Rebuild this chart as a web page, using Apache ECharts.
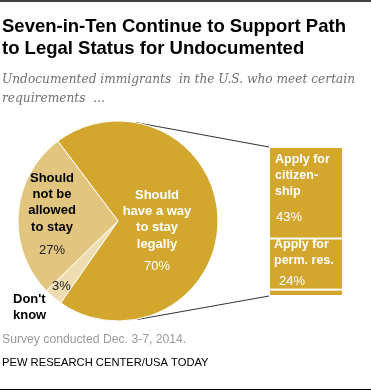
<!DOCTYPE html>
<html><head><meta charset="utf-8">
<script src="https://cdn.jsdelivr.net/npm/echarts@6/dist/echarts.min.js"></script>
<style>html,body{margin:0;padding:0;background:#fff}#c{width:371px;height:392px}</style>
</head><body><div id="c"></div>
<script>
// ---- data ----
const pieNames = ['Should have a way to stay legally', "Don't know", 'Should not be allowed to stay'];
const pieValues = [70, 3, 27];
const barNames = ['Apply for citizenship', 'Apply for perm. res.', 'Other'];
const barValues = [43, 24, 3];
const barLabels = ['Apply for\ncitizen-\nship', 'Apply for\nperm. res.', ''];

const titleText = 'Seven-in-Ten Continue to Support Path\nto Legal Status for Undocumented';
const subText = 'Undocumented immigrants  in the U.S. who meet certain\nrequirements  ...';
const noteText = 'Survey conducted Dec. 3-7, 2014.';
const sourceText = 'PEW RESEARCH CENTER/USA TODAY';

// ---- layout ----
const CX = 118, CY = 221, R = 100;
const G = {left: 269, top: 147, width: 74, height: 149};
const GOLD = '#D3A72E', TAN = '#E2C57F', PALE = '#EEDDB0';
const SANS = '"Liberation Sans", Arial, sans-serif';

const chart = echarts.init(document.getElementById('c'), null, {renderer: 'canvas'});

const pieColors = [GOLD, PALE, TAN];
const pieLabelPos = [
  {x: 157, y: 187, align: 'center', verticalAlign: 'top'},
  {x: 13, y: 281, align: 'left', verticalAlign: 'top'},
  {x: 52, y: 170, align: 'center', verticalAlign: 'top'}
];
const pieFormat = [
  '{w|Should\nhave a way\nto stay\nlegally}\n{wp|' + pieValues[0] + '%}',
  '{sp|' + pieValues[1] + '%}\n{b|Don\'t\nknow}',
  '{b|Should\nnot be\nallowed\nto stay}\n{p|' + pieValues[2] + '%}'
];

const rich = {
  w: {color: '#fff', fontWeight: 'bold', fontSize: 13, lineHeight: 16.3, fontFamily: SANS, align: 'center'},
  wp: {color: '#fff', fontSize: 13, lineHeight: 28, fontFamily: SANS, align: 'center'},
  b: {color: '#000', fontWeight: 'bold', fontSize: 13, lineHeight: 16.3, fontFamily: SANS},
  p: {color: '#222', fontSize: 13, lineHeight: 30, fontFamily: SANS},
  sp: {color: '#222', fontSize: 13, lineHeight: 10, fontFamily: SANS, padding: [0, 0, 0, 39]}
};

const barRich = {
  b: {color: '#fff', fontWeight: 'bold', fontSize: 12.5, lineHeight: 16, fontFamily: SANS},
  p: {color: '#fff', fontSize: 13, lineHeight: 34, fontFamily: SANS, padding: [0, 0, 0, 1]},
  p2: {color: '#fff', fontSize: 13, lineHeight: 24, fontFamily: SANS, padding: [0, 0, 0, 5]}
};

const barSeries = barValues.map((v, i) => ({
  type: 'bar', name: barNames[i], stack: 'legal', data: [v], barWidth: '100%',
  itemStyle: {color: GOLD, borderColor: '#fff', borderWidth: 1},
  label: {
    show: i < 2,
    position: i === 0 ? [6, 5] : [5, -1.5],
    formatter: '{b|' + barLabels[i] + '}\n{' + (i === 0 ? 'p' : 'p2') + '|' + v + '%}',
    rich: barRich
  },
  silent: true
}));

// connector lines from pie edge to bar
const a1 = -80 * Math.PI / 180, a2 = 80 * Math.PI / 180;
const p1 = [CX + R * Math.cos(a1) + 0.5, CY + R * Math.sin(a1)];
const p2 = [CX + R * Math.cos(a2) + 2, CY + R * Math.sin(a2)];

chart.setOption({
  animation: false,
  backgroundColor: '#fff',
  grid: G,
  xAxis: {type: 'category', data: ['all'], show: false},
  yAxis: {type: 'value', min: 0, max: 70, inverse: true, show: false},
  series: [
    {
      type: 'pie', center: [CX, CY], radius: R, startAngle: 127, clockwise: true,
      silent: true,
      data: pieValues.map((v, i) => ({name: pieNames[i], value: v, itemStyle: {color: pieColors[i]},
        label: {formatter: pieFormat[i]}})),
      itemStyle: {borderColor: '#fff', borderWidth: 1},
      label: {show: true, position: 'inside', rich: rich},
      labelLine: {show: false},
      labelLayout: function (params) { return pieLabelPos[params.dataIndex]; }
    }
  ].concat(barSeries),
  graphic: [
    {type: 'line', shape: {x1: 0, y1: 1, x2: 371, y2: 1}, style: {stroke: '#000', lineWidth: 1.5}},
    {type: 'line', shape: {x1: 0, y1: 389.5, x2: 371, y2: 389.5}, style: {stroke: '#000', lineWidth: 1}},
    {type: 'text', left: 2, top: 16, style: {text: titleText, font: 'bold 18.5px ' + SANS, lineHeight: 22, fill: '#000'}},
    {type: 'text', left: 2, top: 70, style: {text: subText, font: 'italic 12.2px "DejaVu Serif", serif', lineHeight: 19, fill: '#6f6f6f'}},
    {type: 'text', left: 2, top: 334, style: {text: noteText, font: '12.2px ' + SANS, fill: '#9a9a9a'}},
    {type: 'text', left: 2, top: 357, style: {text: sourceText, font: '11.2px ' + SANS, fill: '#000'}},
    {type: 'line', shape: {x1: p1[0], y1: p1[1], x2: G.left, y2: G.top}, style: {stroke: '#333', lineWidth: 1}},
    {type: 'line', shape: {x1: p2[0], y1: p2[1], x2: G.left, y2: G.top + G.height}, style: {stroke: '#333', lineWidth: 1}}
  ]
});
</script></body></html>
